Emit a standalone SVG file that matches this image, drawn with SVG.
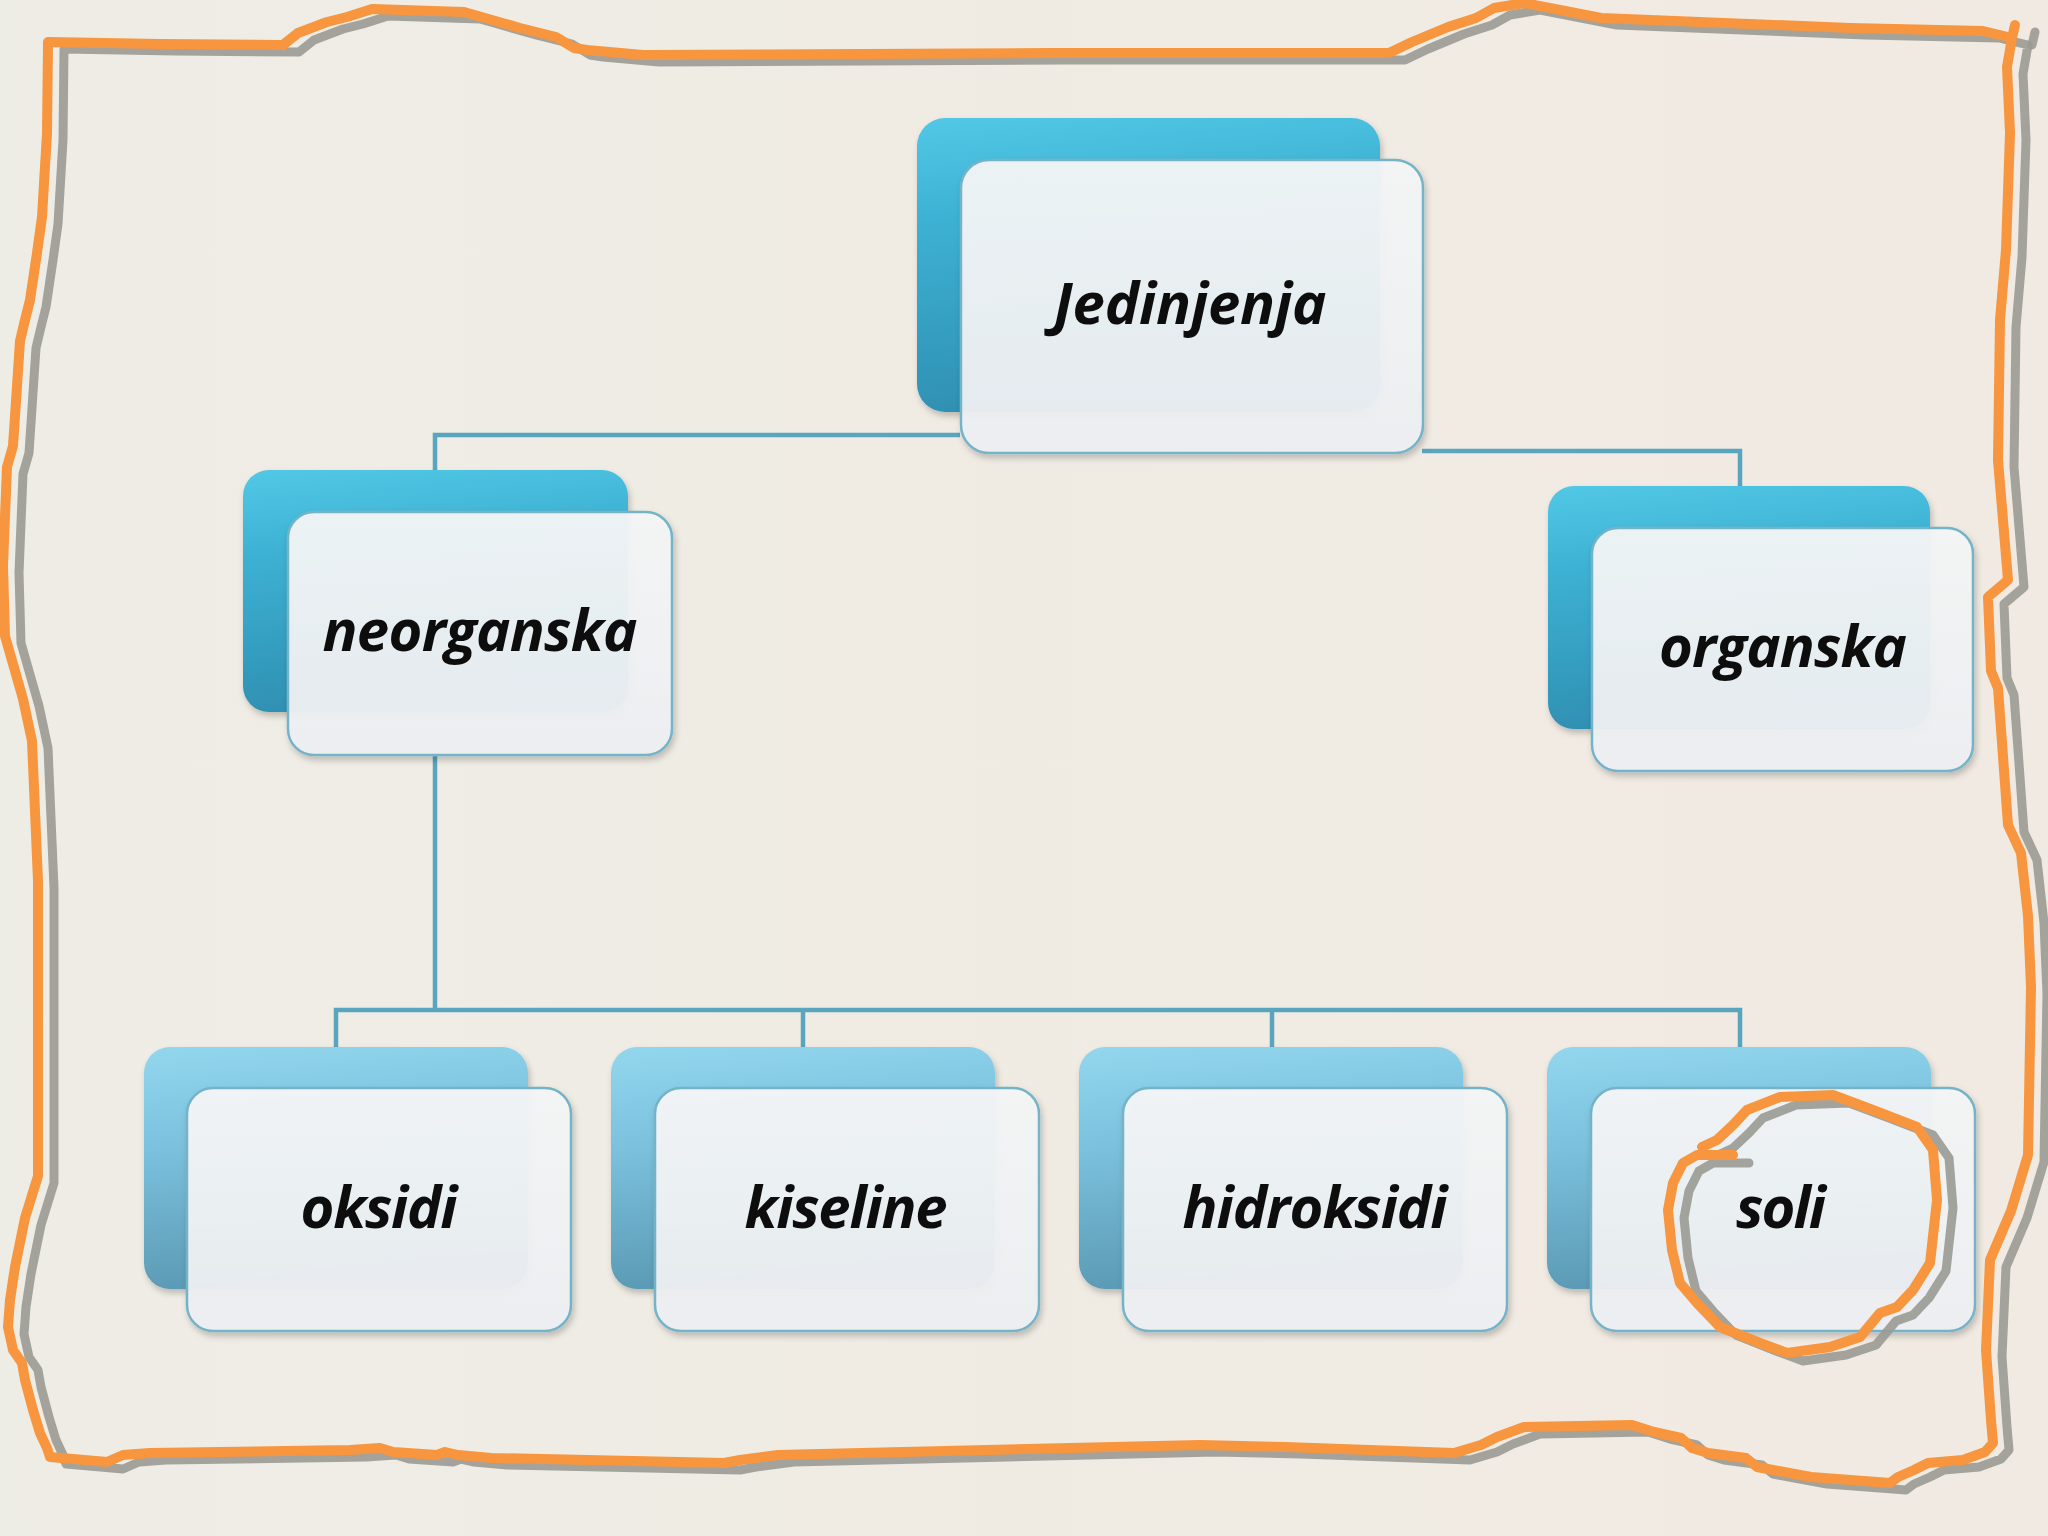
<svg xmlns="http://www.w3.org/2000/svg" width="2048" height="1536" viewBox="0 0 2048 1536">
<defs>
<linearGradient id="bg" x1="0" y1="0" x2="1" y2="0">
<stop offset="0" stop-color="#EEEDE5"/><stop offset="1" stop-color="#F1EAE2"/>
</linearGradient>
<linearGradient id="gBackTop" x1="0" y1="0" x2="0.15" y2="1">
<stop offset="0" stop-color="#52C8E6"/><stop offset="0.35" stop-color="#3DB1D3"/><stop offset="1" stop-color="#2F90B2"/>
</linearGradient>
<linearGradient id="gBackBot" x1="0" y1="0" x2="0.15" y2="1">
<stop offset="0" stop-color="#93D7EE"/><stop offset="0.4" stop-color="#7CC2DE"/><stop offset="1" stop-color="#5B9AB4"/>
</linearGradient>
<linearGradient id="gFront" x1="0" y1="0" x2="0" y2="1">
<stop offset="0" stop-color="#F4F6F7"/><stop offset="1" stop-color="#EDEFF2"/>
</linearGradient>
<filter id="sh" x="-10%" y="-10%" width="125%" height="130%">
<feDropShadow dx="2" dy="4" stdDeviation="3" flood-color="#000" flood-opacity="0.22"/>
</filter>
</defs>
<style>
.back-top{fill:url(#gBackTop);filter:url(#sh)}
.back-bot{fill:url(#gBackBot);filter:url(#sh)}
.front{fill:url(#gFront);fill-opacity:0.95;stroke:#74B3C8;stroke-width:2.5;filter:url(#sh)}
.conn{fill:none;stroke:#5AA5BE;stroke-width:4.5}
.lbl{font-family:"Open Sans","Noto Sans",sans-serif;font-weight:700;font-style:italic;font-size:58px;fill:#0d0d0d;text-anchor:middle}
.ink{fill:none;stroke-linejoin:round;stroke-linecap:round}
.orange{stroke:#F7963E;stroke-width:10}
.shade{stroke:#9A9A94;stroke-width:9;opacity:0.9}
</style>
<rect width="2048" height="1536" fill="url(#bg)"/>

<g id="connectors">
<path class="conn" d="M960,435 H435 V470"/>
<path class="conn" d="M1422,451 H1740 V486"/>
<path class="conn" d="M435,755 V1010"/>
<path class="conn" d="M336,1047 V1010 H1740 V1047"/>
<path class="conn" d="M803,1010 V1047"/>
<path class="conn" d="M1272,1010 V1047"/>
</g>

<g id="node-jedinjenja">
<rect class="back-top" x="917" y="118" width="463" height="294" rx="28"/>
<rect class="front" x="961" y="160" width="462" height="293" rx="28"/>
<text class="lbl" x="1190" y="324" textLength="273">Jedinjenja</text>
</g>
<g id="node-neorganska">
<rect class="back-top" x="243" y="470" width="385" height="242" rx="26"/>
<rect class="front" x="288" y="512" width="384" height="243" rx="26"/>
<text class="lbl" x="480" y="651" textLength="315">neorganska</text>
</g>
<g id="node-organska">
<rect class="back-top" x="1548" y="486" width="382" height="243" rx="26"/>
<rect class="front" x="1592" y="528" width="381" height="243" rx="26"/>
<text class="lbl" x="1783" y="667" textLength="248">organska</text>
</g>
<g id="node-oksidi">
<rect class="back-bot" x="144" y="1047" width="384" height="242" rx="26"/>
<rect class="front" x="187" y="1088" width="384" height="243" rx="26"/>
<text class="lbl" x="379" y="1228" textLength="157">oksidi</text>
</g>
<g id="node-kiseline">
<rect class="back-bot" x="611" y="1047" width="384" height="242" rx="26"/>
<rect class="front" x="655" y="1088" width="384" height="243" rx="26"/>
<text class="lbl" x="846" y="1228" textLength="203">kiseline</text>
</g>
<g id="node-hidroksidi">
<rect class="back-bot" x="1079" y="1047" width="384" height="242" rx="26"/>
<rect class="front" x="1123" y="1088" width="384" height="243" rx="26"/>
<text class="lbl" x="1315" y="1228" textLength="265">hidroksidi</text>
</g>
<g id="node-soli">
<rect class="back-bot" x="1547" y="1047" width="384" height="242" rx="26"/>
<rect class="front" x="1591" y="1088" width="384" height="243" rx="26"/>
<text class="lbl" x="1781" y="1228" textLength="90">soli</text>
</g>

<g id="annotations">
<defs>
<path id="frame" d="M48,42 L160,44 L283,45 L298,33 L327,22 L347,17 L372,9 L464,12 L485,18 L520,28 L556,37 L574,48 L587,50 L643,55 L1050,53 L1389,53 L1412,42 L1448,27 L1476,18 L1494,8 L1524,3 L1560,10 L1601,18 L1850,28 L1983,31 L2012,38 L2007,67 L2010,133 L2006,250 L2000,320 L1998,460 L2008,580 L1988,597 L1991,671 L1998,688 L2008,825 L2021,853 L2028,916 L2031,987 L2028,1155 L2011,1211 L1990,1260 L1986,1350 L1991,1420 L1993,1443 L1985,1452 L1963,1460 L1928,1463 L1914,1470 L1898,1477 L1890,1483 L1811,1477 L1773,1470 L1757,1467 L1746,1458 L1708,1453 L1692,1448 L1681,1438 L1654,1432 L1632,1425 L1524,1427 L1497,1437 L1481,1445 L1454,1453 L1285,1447 L1200,1445 L778,1455 L740,1460 L724,1463 L491,1458 L458,1455 L445,1452 L437,1455 L393,1452 L380,1448 L350,1450 L150,1453 L123,1455 L107,1462 L50,1457 L47,1448 L40,1433 L33,1410 L25,1380 L22,1363 L13,1350 L8,1327 L10,1300 L15,1267 L25,1218 L38,1176 L38,881 L32,741 L23,699 L5,636 L3,566 L7,467 L13,446 L20,341 L25,320 L30,300 L37,253 L42,217 L47,133 Z"/>
<path id="tick" d="M2012,38 L2015,25"/>
<path id="ring" d="M1702,1147 L1717,1140 L1733,1125 L1747,1110 L1780,1097 L1833,1095 L1873,1110 L1917,1127 L1933,1150 L1937,1200 L1930,1263 L1913,1290 L1897,1307 L1880,1313 L1860,1337 L1830,1347 L1787,1353 L1760,1343 L1720,1327 L1697,1303 L1680,1283 L1672,1250 L1668,1210 L1673,1183 L1683,1163 L1697,1155 L1733,1155"/>
</defs>
<use href="#frame" class="ink shade" transform="translate(16,7)"/>
<use href="#tick" class="ink shade" transform="translate(20,7)"/>
<use href="#frame" class="ink orange"/>
<use href="#tick" class="ink orange"/>
<use href="#ring" class="ink shade" transform="translate(16,8)"/>
<use href="#ring" class="ink orange"/>
</g>
</svg>
